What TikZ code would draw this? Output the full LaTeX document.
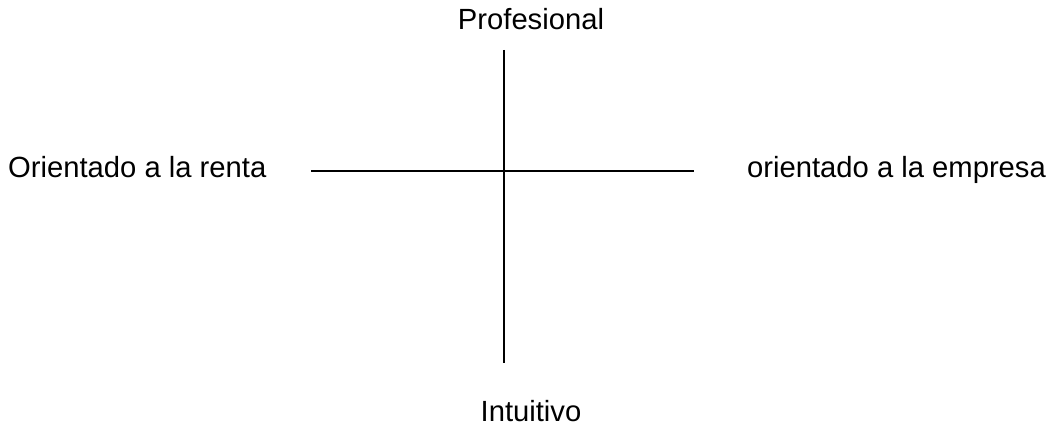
\documentclass[tikz,border=0pt]{standalone}
\usepackage{fontspec}
\setmainfont{Liberation Sans}
\begin{document}
\begin{tikzpicture}[x=1pt,y=1pt,
  lbl/.style={inner sep=0pt,font=\fontsize{29.2}{34}\selectfont},
  axis/.style={line width=1.5pt,black}]
\useasboundingbox (0,0) rectangle (1053,429);
\node[lbl,anchor=base] (prof) at (531,399) {Profesional};
\node[lbl,anchor=base] (intu) at (531,8) {Intuitivo};
\node[lbl,anchor=base west] (renta) at (8,251) {Orientado a la renta};
\node[lbl,anchor=base west] (emp) at (747,251) {orientado a la empresa};
\coordinate (vt) at (504,379);
\coordinate (vb) at (504,66);
\coordinate (hl) at (311,258);
\coordinate (hr) at (694,258);
\draw[axis] (vt) -- (vb);
\draw[axis] (hl) -- (hr);
\end{tikzpicture}
\end{document}
